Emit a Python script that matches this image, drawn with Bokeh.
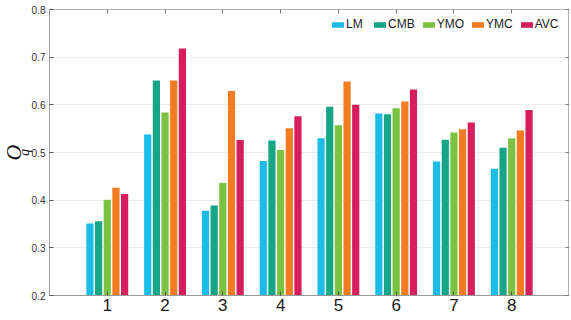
from bokeh.plotting import figure
from bokeh.models import (ColumnDataSource, FixedTicker, LinearAxis, Range1d, Legend,
                          LegendItem, Title, CustomJSTickFormatter)
from bokeh.transform import dodge
from bokeh.embed import file_html
from bokeh.resources import INLINE

groups = [1, 2, 3, 4, 5, 6, 7, 8]
series = ["LM", "CMB", "YMO", "YMC", "AVC"]
LM = [0.351, 0.538, 0.378, 0.482, 0.530, 0.582, 0.481, 0.466]
CMB = [0.356, 0.651, 0.389, 0.525, 0.596, 0.580, 0.527, 0.510]
YMO = [0.401, 0.584, 0.436, 0.505, 0.557, 0.593, 0.542, 0.530]
YMC = [0.426, 0.651, 0.629, 0.551, 0.649, 0.607, 0.549, 0.546]
AVC = [0.413, 0.718, 0.526, 0.576, 0.600, 0.632, 0.563, 0.589]
y_ticks = [0.2, 0.3, 0.4, 0.5, 0.6, 0.7, 0.8]

colors = ["#1bbde7", "#17a588", "#7cc242", "#f47b21", "#d61e5f"]
offsets = [-0.3, -0.15, 0.0, 0.15, 0.3]

src = ColumnDataSource(dict(x=groups, LM=LM, CMB=CMB, YMO=YMO, YMC=YMC, AVC=AVC))

p = figure(output_backend="svg", toolbar_location=None,
           frame_width=520, frame_height=286,
           x_range=Range1d(0, 9), y_range=Range1d(0.2, 0.8),
           min_border_left=49, min_border_right=0, min_border_top=9, min_border_bottom=5)
p.background_fill_color = "white"
p.border_fill_color = "white"
p.outline_line_color = "#b0b0b0"

renderers = []
for name, col, off in zip(series, colors, offsets):
    r = p.vbar(x=dodge("x", off, range=p.x_range), top=name, bottom=0.2, width=0.125,
               source=src, fill_color=col, line_color=None)
    renderers.append(r)

legend = Legend(items=[LegendItem(label=n, renderers=[r]) for n, r in zip(series, renderers)],
                orientation="horizontal", location=(281, 264))
legend.border_line_color = None
legend.background_fill_alpha = 0
legend.glyph_width = 15
legend.glyph_height = 7
legend.label_height = 8
legend.label_standoff = 1
legend.spacing = 6
legend.padding = 0
legend.margin = 0
legend.label_text_font = "Liberation Sans"
legend.label_text_font_size = "12px"
legend.label_text_color = "#1a1a1a"
legend.label_text_baseline = "middle"
p.add_layout(legend, "center")

p.xgrid.visible = False
p.ygrid.ticker = FixedTicker(ticks=y_ticks)
p.ygrid.grid_line_color = "#ececec"
p.ygrid.grid_line_width = 1

xa = p.xaxis[0]
xa.ticker = FixedTicker(ticks=groups)
xa.major_label_text_font = "Liberation Sans"
xa.major_label_text_font_size = "17px"
xa.major_label_text_color = "#1a1a1a"
xa.major_tick_in = 4
xa.major_tick_out = 0
xa.minor_tick_line_color = None
xa.axis_line_color = "#999999"
xa.major_tick_line_color = "#555555"
xa.major_label_standoff = 3

ya = p.yaxis[0]
ya.ticker = FixedTicker(ticks=y_ticks)
ya.formatter.use_scientific = False
ya.major_label_text_font = "Liberation Sans"
ya.major_label_text_font_size = "10px"
ya.major_label_text_color = "#333333"
ya.major_tick_in = 4
ya.major_tick_out = 0
ya.minor_tick_line_color = None
ya.axis_line_color = "#999999"
ya.major_tick_line_color = "#555555"
ya.major_label_standoff = 4

blank = CustomJSTickFormatter(code="return ''")
top_ax = LinearAxis(ticker=FixedTicker(ticks=groups), formatter=blank,
                    major_label_text_font_size="1px",
                    major_tick_in=4, major_tick_out=0, minor_tick_line_color=None,
                    axis_line_color="#b0b0b0", major_tick_line_color="#777777",
                    major_label_standoff=0)
right_ax = LinearAxis(ticker=FixedTicker(ticks=y_ticks), formatter=blank,
                      major_label_text_font_size="1px",
                      major_tick_in=4, major_tick_out=0, minor_tick_line_color=None,
                      axis_line_color="#b0b0b0", major_tick_line_color="#777777",
                      major_label_standoff=0)
p.add_layout(top_ax, "above")
p.add_layout(right_ax, "right")

title_q = Title(text="q", align="center", offset=16, standoff=-6,
                text_font="Liberation Serif", text_font_style="italic",
                text_font_size="14px", text_color="#111111")
title_o = Title(text="O", align="center", offset=-6, standoff=-17,
                text_font="Liberation Serif", text_font_style="italic",
                text_font_size="22px", text_color="#111111")
p.add_layout(title_q, "left")
p.add_layout(title_o, "left")

open("out.html", "w").write(file_html(p, INLINE))
